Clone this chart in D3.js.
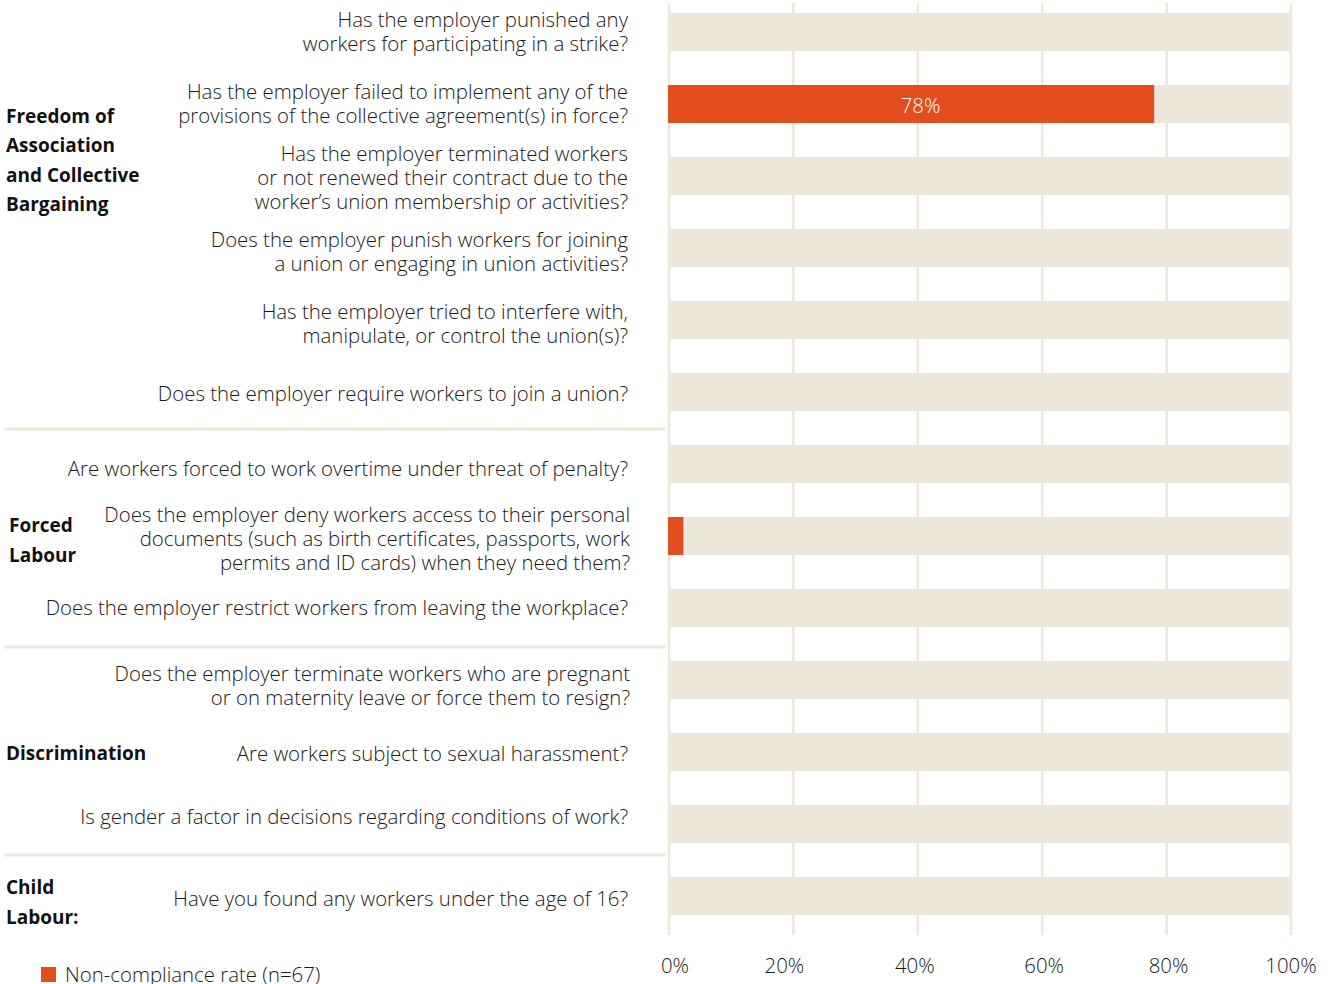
<!DOCTYPE html>
<html><head><meta charset="utf-8">
<script src="https://cdn.jsdelivr.net/npm/d3@7"></script>
<style>
body{margin:0;background:#fff;}
text{font-family:"Open Sans",Lato,sans-serif;}
</style></head>
<body><svg id="c" width="1332" height="984"></svg>
<script>
const questions = [
 ["Has the employer punished any","workers for participating in a strike?"],
 ["Has the employer failed to implement any of the","provisions of the collective agreement(s) in force?"],
 ["Has the employer terminated workers","or not renewed their contract due to the","worker’s union membership or activities?"],
 ["Does the employer punish workers for joining","a union or engaging in union activities?"],
 ["Has the employer tried to interfere with,","manipulate, or control the union(s)?"],
 ["Does the employer require workers to join a union?"],
 ["Are workers forced to work overtime under threat of penalty?"],
 ["Does the employer deny workers access to their personal","documents (such as birth certificates, passports, work","permits and ID cards) when they need them?"],
 ["Does the employer restrict workers from leaving the workplace?"],
 ["Does the employer terminate workers who are pregnant","or on maternity leave or force them to resign?"],
 ["Are workers subject to sexual harassment?"],
 ["Is gender a factor in decisions regarding conditions of work?"],
 ["Have you found any workers under the age of 16?"]
];
const values = [0, 78, 0, 0, 0, 0, 0, 2.3, 0, 0, 0, 0, 0];
const valueLabels = ["", "78%", "", "", "", "", "", "", "", "", "", "", ""];
const groups = [
 {lines:["Freedom of","Association","and Collective","Bargaining"], first:0, last:5},
 {lines:["Forced","Labour"], first:6, last:8},
 {lines:["Discrimination"], first:9, last:11},
 {lines:["Child","Labour:"], first:12, last:12}
];
const tickValues = [0,20,40,60,80,100];
const tickLabels = ["0%","20%","40%","60%","80%","100%"];
const legendLabel = "Non-compliance rate (n=67)";

// layout tweaks (label vertical / horizontal nudges, px)
const labelNudge = [0,0,2,4,4,2,5,3,0,6,2,-7,3];
const labelRight = [628,628,628,628,628,628,628,630,628,630,628,628,628];

const svg = d3.select("#c");
const x = d3.scaleLinear().domain([0,100]).range([669,1291]);
const y = d3.scalePoint().domain(d3.range(questions.length)).range([32, 32+72*(questions.length-1)]);
const barH = 38;
const ORANGE = "#e34e1e", BEIGE = "#ede6da";
const FS = 20.4;

// gridlines
svg.append("g").selectAll("line").data(tickValues).join("line")
  .attr("x1", d=>x(d)).attr("x2", d=>x(d)).attr("y1", 3).attr("y2", 935)
  .attr("stroke", BEIGE).attr("stroke-width", 2.5);

// background bars
svg.append("g").selectAll("rect").data(values).join("rect")
  .attr("x", x(0)-1).attr("width", x(100)-x(0)+1)
  .attr("y", (d,i)=>y(i)-barH/2).attr("height", barH).attr("fill", BEIGE);

// value bars
svg.append("g").selectAll("rect").data(values).join("rect")
  .attr("x", x(0)-1).attr("width", d=> d>0 ? x(d)-x(0)+1 : 0)
  .attr("y", (d,i)=>y(i)-barH/2).attr("height", barH).attr("fill", ORANGE);

svg.append("g").selectAll("text").data(values).join("text")
  .attr("x", d=> (x(0)+x(d))/2 + 9).attr("y", (d,i)=>y(i)+9)
  .attr("text-anchor","middle").attr("fill","#fff").attr("font-size",FS).attr("font-weight",300)
  .text((d,i)=>valueLabels[i]);

// question labels
const qg = svg.append("g");
questions.forEach((lines,i)=>{
  const n = lines.length, lh = 24;
  const t = qg.append("text").attr("text-anchor","end").attr("font-size",FS).attr("fill","#1a1a1a").attr("font-weight",300);
  lines.forEach((l,k)=>{
    t.append("tspan").attr("x",labelRight[i]).attr("y", y(i) + labelNudge[i] + (k-(n-1)/2)*lh + 7).text(l);
  });
});

// group labels
const gg = svg.append("g");
const groupCenters = [160, 540, 753, 902];
groups.forEach((g,gi)=>{
  const n = g.lines.length, lh = 29.5;
  const cy = groupCenters[gi];
  const t = gg.append("text").attr("font-size",19).attr("font-weight",700).attr("fill","#111");
  g.lines.forEach((l,k)=>{
    t.append("tspan").attr("x", gi===1?9:6).attr("y", cy + (k-(n-1)/2)*lh + 7).text(l);
  });
});

// separators
const seps = groups.slice(0,-1).map(g => (y(g.last)+y(g.last+1))/2);
svg.append("g").selectAll("line").data(seps).join("line")
  .attr("x1",4).attr("x2",665).attr("y1",(d,i)=>d+[1,3,-5][i]).attr("y2",(d,i)=>d+[1,3,-5][i])
  .attr("stroke",BEIGE).attr("stroke-width",3);

// x axis labels
svg.append("g").selectAll("text").data(tickValues).join("text")
  .attr("x", (d,i)=> x(d) + [6,-9,-3,2,2,0][i]).attr("y", 973).attr("text-anchor","middle")
  .attr("font-size",FS).attr("font-weight",300).attr("fill","#1a1a1a")
  .text((d,i)=>tickLabels[i]);

// legend
svg.append("rect").attr("x",41).attr("y",967).attr("width",15).attr("height",15).attr("fill",ORANGE);
svg.append("text").attr("x",65).attr("y",982).attr("font-size",FS).attr("font-weight",300).attr("fill","#1a1a1a").text(legendLabel);
</script></body></html>
